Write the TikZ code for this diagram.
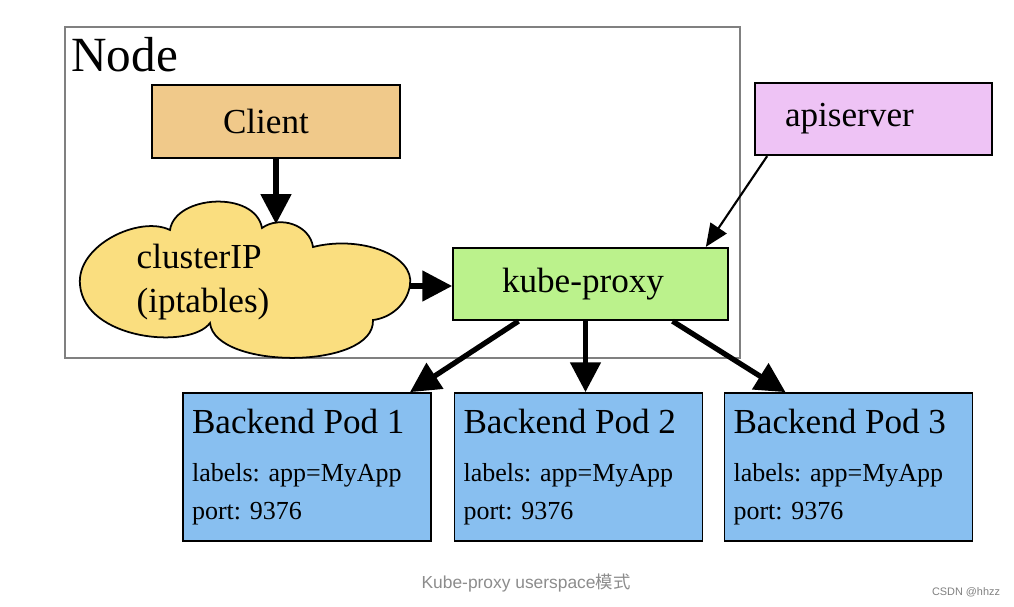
\documentclass[tikz,border=0pt]{standalone}
\usepackage{fontspec}
\setmainfont{Liberation Serif}
\newfontfamily\capfont{Liberation Sans}
\newfontfamily\cjkfont{Noto Sans CJK SC}
\usetikzlibrary{arrows.meta,calc}
\frenchspacing
\definecolor{clientfill}{HTML}{F0C98A}
\definecolor{apifill}{HTML}{EEC3F5}
\definecolor{kubefill}{HTML}{BBF28C}
\definecolor{cloudfill}{HTML}{FADE7F}
\definecolor{podfill}{HTML}{88BFF0}
\definecolor{capgray}{HTML}{8C8C8C}
\newcommand\boxtext{\fontsize{20pt}{25pt}\selectfont}
\newcommand\podtext{\fontsize{14.8pt}{21.5pt}\selectfont}
\tikzset{
  box/.style={rectangle,draw,line width=1pt,font=\boxtext,minimum height=1.45cm,align=left},
  pod/.style={rectangle,draw,line width=1pt,fill=podfill,font=\podtext,
    minimum width=4.96cm,minimum height=2.96cm,text width=4.6cm,align=left,inner xsep=0.18cm},
  bigarrow/.style={line width=3pt,-{Triangle[width=17pt,length=17pt]}},
  smallarrow/.style={line width=1.2pt,-{Triangle[width=11pt,length=13pt]}}
}
\begin{document}
\begin{tikzpicture}[x=0.02cm,y=-0.02cm]
  \useasboundingbox (0,0) rectangle (1014,606);
  \draw[gray,line width=0.8pt] (65,27) rectangle (740,358);
  \node[anchor=base west,inner sep=0,font=\fontsize{28pt}{30pt}\selectfont] (nodelabel) at (71,71) {Node};

  \node[box,fill=clientfill,minimum width=4.96cm,text width=2.12cm,inner xsep=1.42cm] (client) at (276,121.5) {Client};
  \node[box,fill=apifill,minimum width=4.74cm,text width=3.54cm,inner xsep=0.6cm] (api) at (873.5,119) {apiserver};
  \node[box,fill=kubefill,minimum width=5.5cm,text width=3.54cm,inner xsep=0.98cm] (kube) at (590.5,284) {kube-proxy};

  \draw[line width=1pt,fill=cloudfill] (210,323) .. controls (190,350) and (85,340) .. (80,285)
    .. controls (76,245) and (140,215) .. (170,230)
    .. controls (175,195) and (255,190) .. (262,228)
    .. controls (280,215) and (310,225) .. (313,247)
    .. controls (360,235) and (415,255) .. (410,285)
    .. controls (407,305) and (390,318) .. (373,320)
    .. controls (375,370) and (215,370) .. cycle;
  \node[align=left,font=\boxtext] (cluster) at (203,282) {clusterIP\\(iptables)};
  \coordinate (cloudtop) at (276,224);
  \coordinate (cloudright) at (410,286);

  \node[pod] (pod1) at (307,467) {{\boxtext Backend Pod 1}\\[5.5pt]labels: app=MyApp\\port: 9376};
  \node[pod] (pod2) at (578.5,467) {{\boxtext Backend Pod 2}\\[5.5pt]labels: app=MyApp\\port: 9376};
  \node[pod] (pod3) at (848.5,467) {{\boxtext Backend Pod 3}\\[5.5pt]labels: app=MyApp\\port: 9376};

  \draw[bigarrow] (client) -- (cloudtop);
  \draw[bigarrow] (cloudright) -- (cloudright -| kube.west);
  \draw[bigarrow] ($(kube.south)+(-72,0)$) -- ($(pod1.north)+(103,0)$);
  \draw[bigarrow] ($(kube.south)+(-5,0)$) -- ($(pod2.north)+(7,0)$);
  \draw[bigarrow] ($(kube.south)+(82,0)$) -- ($(pod3.north)+(-63,0)$);
  \draw[smallarrow] ($(api.south west)+(13,0)$) -- ($(kube.north east)+(-23,0)$);

  \node[font=\capfont\fontsize{9.9pt}{12pt}\selectfont,text=capgray] (caption) at (526,583) {Kube-proxy userspace{\cjkfont 模式}};
  \node[font=\capfont\fontsize{6.2pt}{8pt}\selectfont,text=gray] (mark) at (966,592) {CSDN @hhzz};
\end{tikzpicture}
\end{document}
